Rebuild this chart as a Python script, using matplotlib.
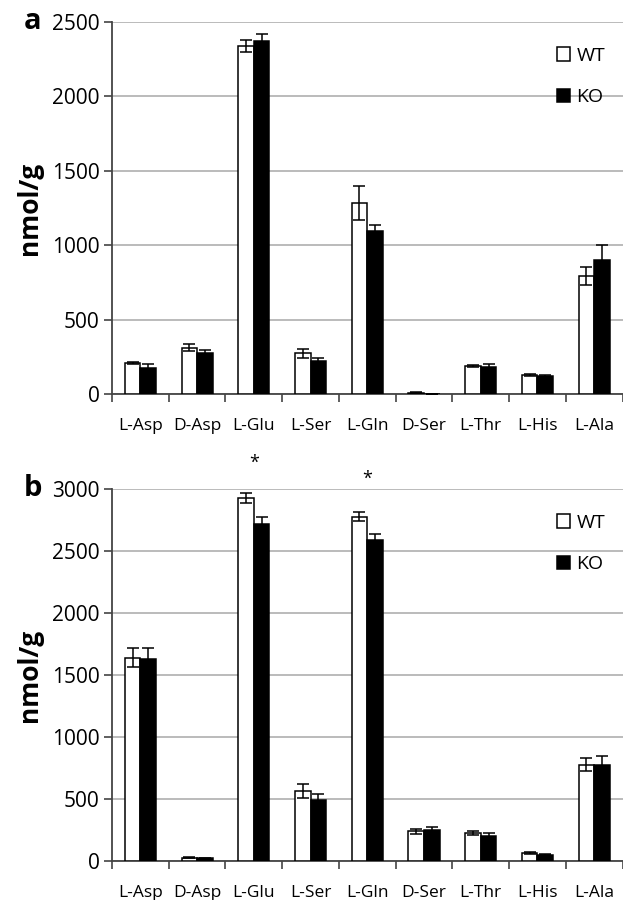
import numpy as np
import matplotlib.pyplot as plt

plt.rcParams['font.family'] = ['Open Sans', 'DejaVu Sans']

amino = ['L-Asp', 'D-Asp', 'L-Glu', 'L-Ser', 'L-Gln', 'D-Ser', 'L-Thr', 'L-His', 'L-Ala']

# panel a
wt_a = [210, 311, 2341, 273, 1281, 9, 188, 128, 793]
wt_a_err = [8, 22, 40, 30, 115, 3, 4, 7, 62]
ko_a = [177, 273, 2374, 222, 1095, 2, 179, 121, 900]
ko_a_err = [25, 22, 42, 20, 38, 1, 20, 5, 100]

# panel b
wt_b = [1641, 27, 2925, 565, 2777, 239, 226, 65, 778]
wt_b_err = [73, 4, 40, 60, 38, 22, 20, 8, 50]
ko_b = [1628, 24, 2718, 495, 2588, 253, 202, 51, 778]
ko_b_err = [86, 4, 60, 43, 52, 22, 25, 4, 65]

star_b = ['L-Glu', 'L-Gln']
star_y = [3210, 3081]

fig = plt.figure(figsize=(6.23, 9.0), dpi=100)
ax_a = fig.add_axes([0.1798, 0.5622, 0.8195, 0.4134])
ax_b = fig.add_axes([0.1798, 0.0433, 0.8195, 0.4134])

x = np.arange(len(amino))
w = 0.275

def draw(ax, wt, wte, ko, koe, ymax, letter):
    ax.bar(x - w/2, wt, w, color='white', edgecolor='black', linewidth=1.1,
           label='WT', zorder=3)
    ax.bar(x + w/2, ko, w, color='black', edgecolor='black', linewidth=1.1,
           label='KO', zorder=3)
    ax.errorbar(x - w/2, wt, yerr=wte, fmt='none', ecolor='black',
                elinewidth=1.1, capsize=4, capthick=1.1, zorder=4)
    ax.errorbar(x + w/2, ko, yerr=koe, fmt='none', ecolor='black',
                elinewidth=1.1, capsize=4, capthick=1.1, zorder=4)
    ax.set_xlim(-0.5, len(amino) - 0.5)
    ax.set_ylim(0, ymax)
    ax.set_yticks(np.arange(0, ymax + 1, 500))
    ax.set_xticks(np.arange(len(amino) + 1) - 0.5, minor=False)
    ax.set_xticklabels([])
    ax.set_xticks(x, minor=True)
    ax.set_xticklabels(amino, minor=True, fontsize=12.5)
    ax.tick_params(axis='x', which='minor', length=0, pad=17)
    ax.tick_params(axis='x', which='major', length=6, width=1.2, color='#444444',
                   direction='out')
    ax.tick_params(axis='y', length=6, width=1.2, color='#444444', labelsize=15,
                   direction='out', pad=3)
    ax.yaxis.grid(True, color='#b5b5b5', linewidth=1.3, zorder=0)
    ax.set_axisbelow(True)
    for s in ['top', 'right']:
        ax.spines[s].set_visible(False)
    for s in ['left', 'bottom']:
        ax.spines[s].set_color('#444444')
        ax.spines[s].set_linewidth(1.3)
    ax.set_ylabel('nmol/g', fontsize=19, fontweight='bold', labelpad=6)
    ax.text(-0.172, 1.0, letter, transform=ax.transAxes, fontsize=21,
            fontweight='bold', ha='left', va='center')
    ax.legend(loc='upper right', bbox_to_anchor=(1.0, 0.98), frameon=False,
              handlelength=0.7, handleheight=0.7, handletextpad=0.3,
              labelspacing=1.2, fontsize=14)

draw(ax_a, wt_a, wt_a_err, ko_a, ko_a_err, 2500, 'a')
draw(ax_b, wt_b, wt_b_err, ko_b, ko_b_err, 3000, 'b')

for name, ys in zip(star_b, star_y):
    ax_b.text(amino.index(name), ys, '*', ha='center', va='center',
              fontsize=13, clip_on=False)

fig.savefig('out.png', dpi=100)
